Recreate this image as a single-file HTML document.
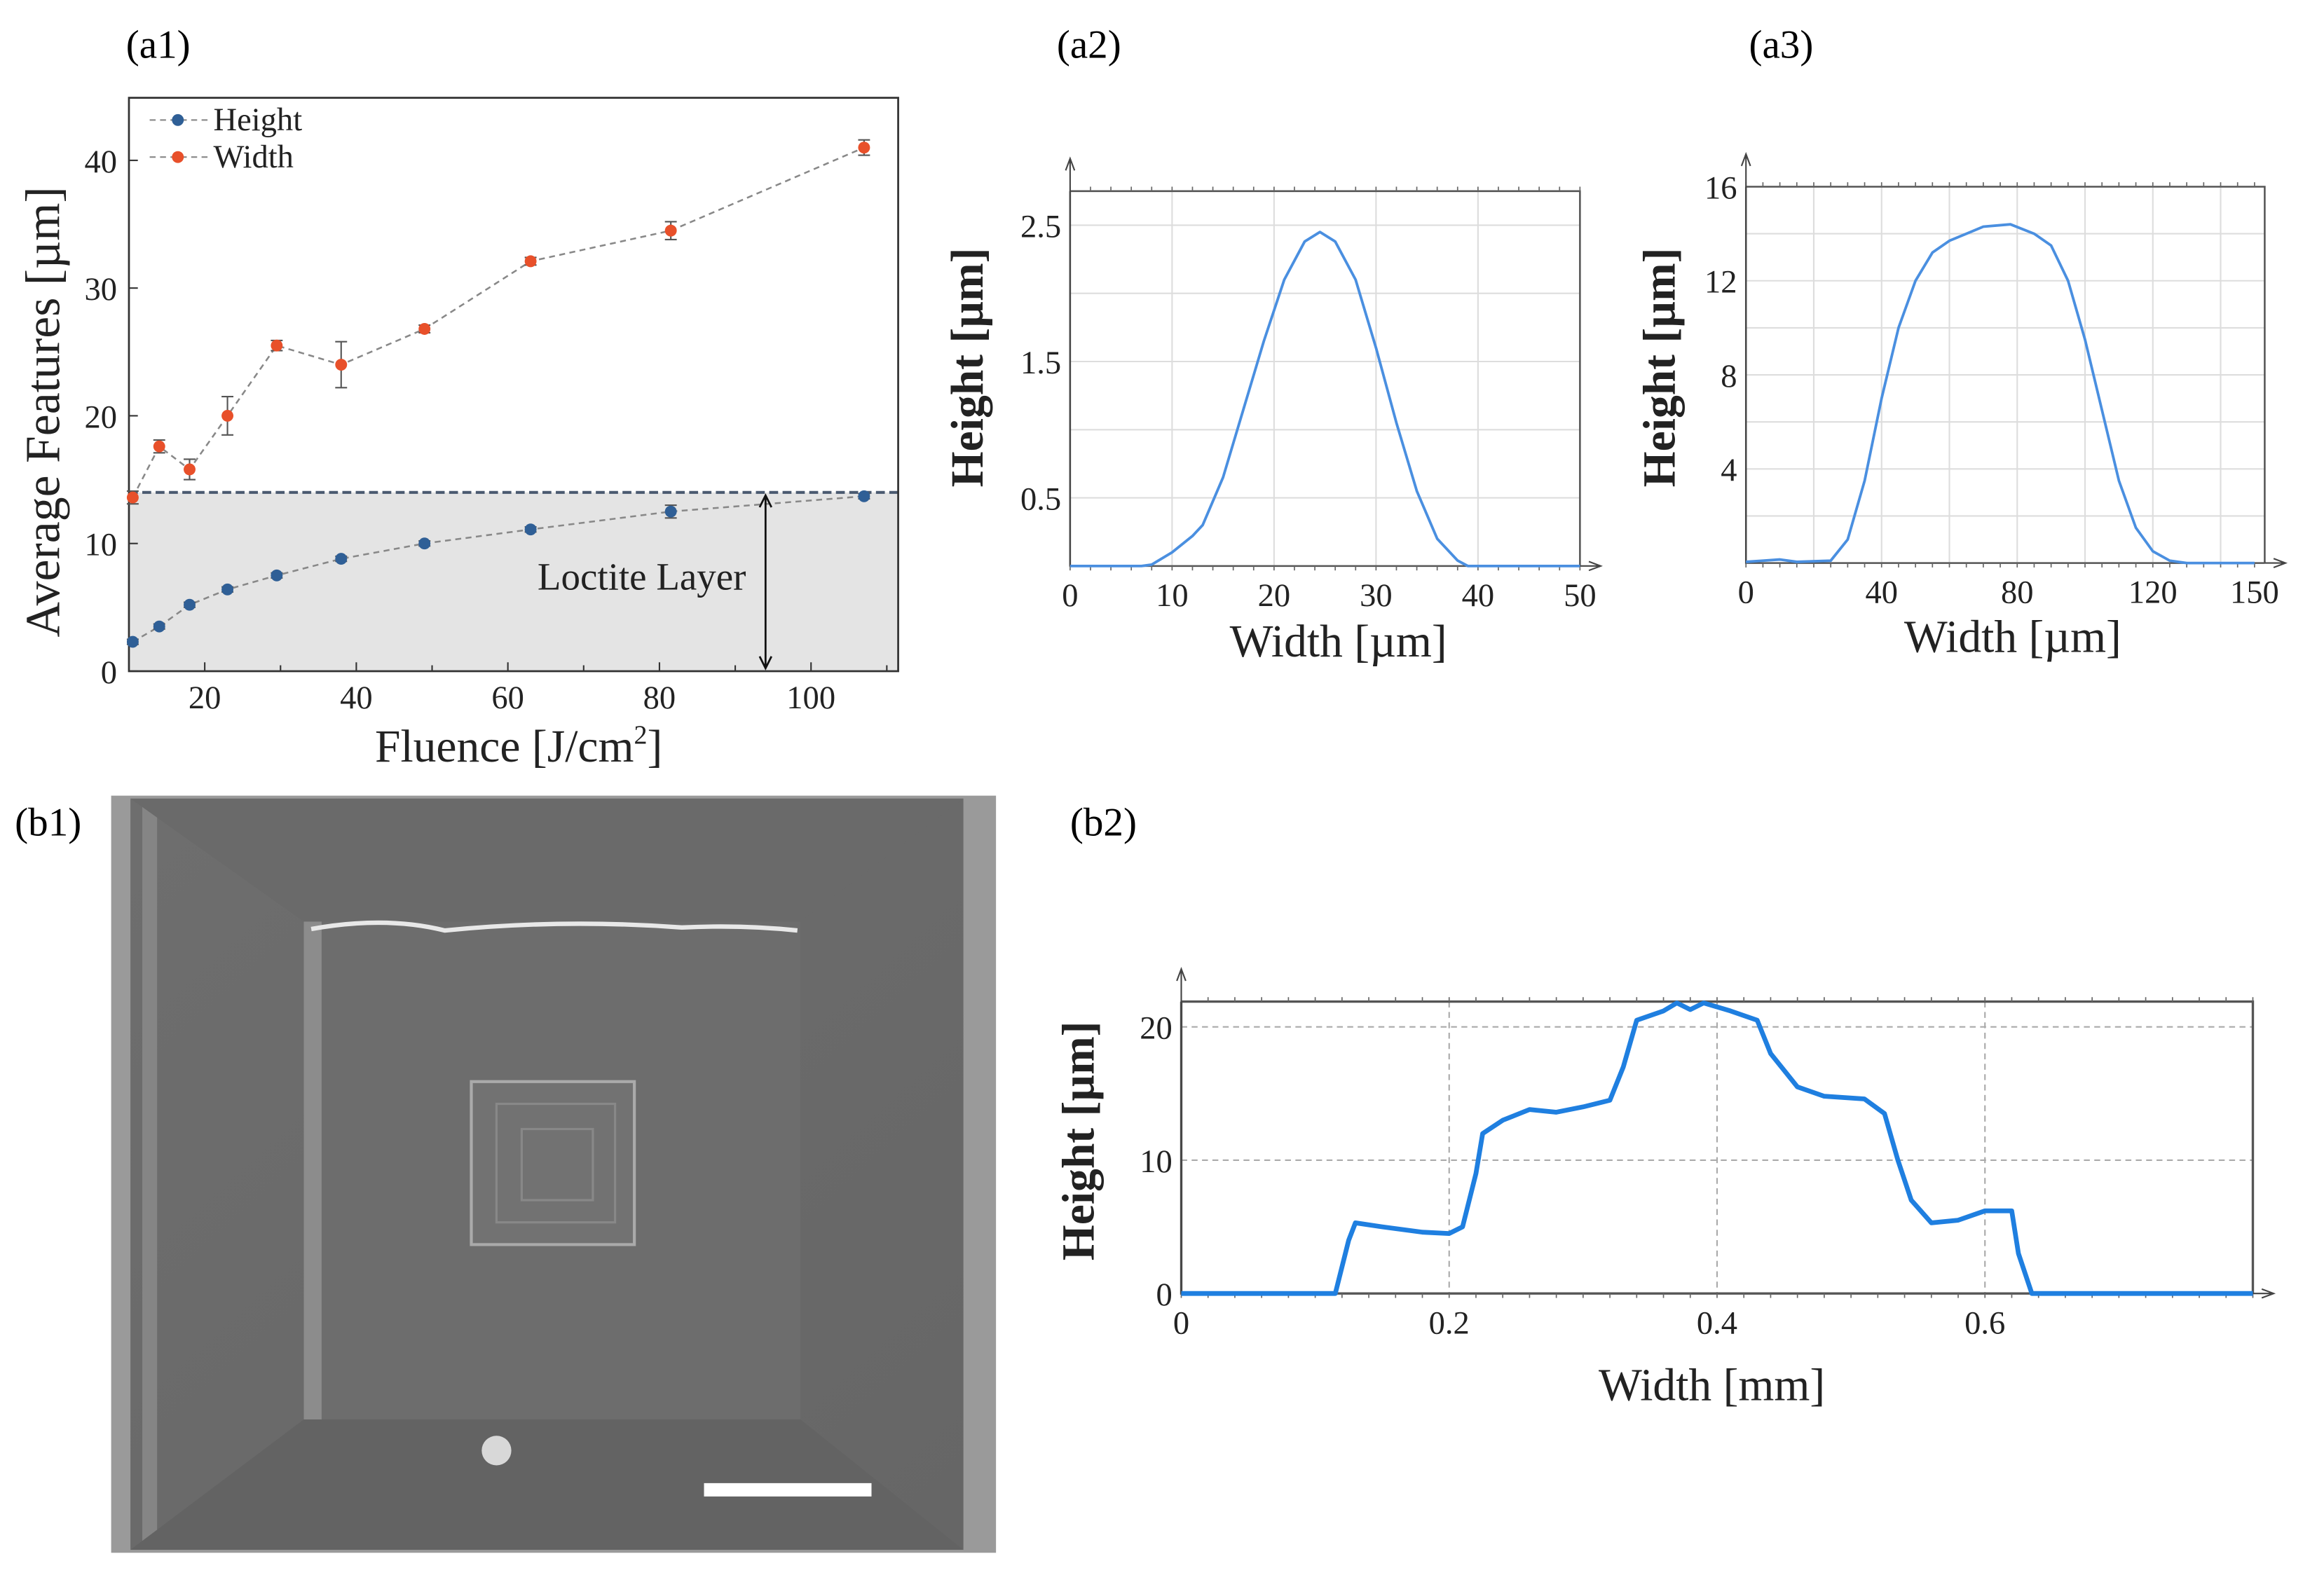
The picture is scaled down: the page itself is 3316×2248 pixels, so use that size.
<!DOCTYPE html>
<html><head><meta charset="utf-8">
<style>
html,body{margin:0;padding:0;background:#fff;}
svg{display:block;font-family:"Liberation Serif",serif;}
</style></head>
<body>
<svg id="fig" width="3316" height="2248" viewBox="0 0 1568 1063" preserveAspectRatio="none" xmlns="http://www.w3.org/2000/svg">
<defs>
<linearGradient id="semg" x1="0" y1="0" x2="1" y2="1"><stop offset="0" stop-color="#6e6e6e"/><stop offset="1" stop-color="#666"/></linearGradient>
</defs>
<text x="85" y="39" font-size="27">(a1)</text>
<text x="713" y="39" font-size="27">(a2)</text>
<text x="1180" y="39" font-size="27">(a3)</text>
<text x="10" y="564" font-size="27">(b1)</text>
<text x="722" y="564" font-size="27">(b2)</text>

<g>
<rect x="75" y="537" width="597" height="511" fill="#9a9a9a"/>
<rect x="88" y="539" width="562" height="507" fill="url(#semg)"/>
<rect x="96" y="540" width="10" height="505" fill="#858585"/>
<path d="M88 539 L205 622 L540 622 L650 539 Z" fill="#6a6a6a"/>
<path d="M88 1046 L205 958 L540 958 L650 1046 Z" fill="#636363"/>
<rect x="205" y="622" width="335" height="336" fill="#6d6d6d"/>
<rect x="205" y="622" width="12" height="336" fill="#8c8c8c"/>
<path d="M210 627 Q260 618 300 628 Q380 620 460 626 Q500 624 538 628" stroke="#e8e8e8" stroke-width="3" fill="none"/>
<rect x="318" y="730" width="110" height="110" fill="#727272" stroke="#aaa" stroke-width="2"/>
<rect x="335" y="745" width="80" height="80" fill="none" stroke="#888" stroke-width="1.5"/>
<rect x="352" y="762" width="48" height="48" fill="none" stroke="#888" stroke-width="1.5"/>
<circle cx="335" cy="979" r="10" fill="#d8d8d8"/>
<rect x="475" y="1001" width="113" height="9" fill="#fff"/>
</g>
<g id="a1"></g>
<g id="a2"></g>
<g id="a3"></g>
<g id="b2"></g>
</svg>
<script>
const a1Fluence = [10.5, 14, 18, 23, 29.5, 38, 49, 63, 81.5, 107];
const a1Width = [13.6, 17.6, 15.8, 20, 25.5, 24, 26.8, 32.1, 34.5, 41];
const a1WidthErr = [0.5, 0.5, 0.8, 1.5, 0.4, 1.8, 0.3, 0.3, 0.7, 0.6];
const a1Height = [2.3, 3.5, 5.2, 6.4, 7.5, 8.8, 10, 11.1, 12.5, 13.7];
const a1HeightErr = [0.2, 0.2, 0.2, 0.2, 0.2, 0.2, 0.2, 0.2, 0.5, 0.2];
const a1XTicks = [20, 40, 60, 80, 100];
const a1YTicks = [0, 10, 20, 30, 40];
const a1Layer = 14;
const a2X = [0, 7, 8, 10, 12, 13, 15, 17, 19, 21, 23, 24.5, 26, 28, 30, 32, 34, 36, 38, 39, 50];
const a2Y = [0, 0, 0.01, 0.1, 0.22, 0.3, 0.65, 1.15, 1.65, 2.1, 2.38, 2.45, 2.38, 2.1, 1.6, 1.05, 0.55, 0.2, 0.04, 0, 0];
const a2XTicks = [0, 10, 20, 30, 40, 50];
const a2YTicks = [0.5, 1.5, 2.5];
const a3X = [0, 5, 10, 15, 25, 30, 35, 40, 45, 50, 55, 60, 65, 70, 78, 85, 90, 95, 100, 105, 110, 115, 120, 125, 130, 150];
const a3Y = [0.05, 0.1, 0.15, 0.05, 0.1, 1, 3.5, 7, 10, 12, 13.2, 13.7, 14, 14.3, 14.4, 14, 13.5, 12, 9.5, 6.5, 3.5, 1.5, 0.5, 0.1, 0, 0];
const a3XTicks = [0, 40, 80, 120, 150];
const a3YTicks = [4, 8, 12, 16];
const b2X = [0, 0.115, 0.125, 0.13, 0.15, 0.18, 0.2, 0.21, 0.22, 0.225, 0.24, 0.26, 0.28, 0.3, 0.32, 0.33, 0.34, 0.36, 0.37, 0.38, 0.39, 0.41, 0.43, 0.44, 0.46, 0.48, 0.51, 0.525, 0.535, 0.545, 0.56, 0.58, 0.6, 0.62, 0.625, 0.635, 0.8];
const b2Y = [0, 0, 4, 5.3, 5, 4.6, 4.5, 5, 9, 12, 13, 13.8, 13.6, 14, 14.5, 17, 20.5, 21.2, 21.8, 21.3, 21.8, 21.2, 20.5, 18, 15.5, 14.8, 14.6, 13.5, 10, 7, 5.3, 5.5, 6.2, 6.2, 3, 0, 0];
const b2XTicks = [0, 0.2, 0.4, 0.6];
const b2YTicks = [0, 10, 20];

const NS = "http://www.w3.org/2000/svg";
function mk(parent, tag, attrs, text) {
  const e = document.createElementNS(NS, tag);
  for (const k in attrs) e.setAttribute(k, attrs[k]);
  if (text !== undefined) e.textContent = text;
  parent.appendChild(e);
  return e;
}
function lin(d0, d1, r0, r1) { return v => r0 + (v - d0) * (r1 - r0) / (d1 - d0); }
function pathFrom(xs, ys, sx, sy) { return xs.map((x, i) => (i ? "L" : "M") + sx(x).toFixed(2) + " " + sy(ys[i]).toFixed(2)).join(""); }

(function () {
  const g = document.getElementById("a1");
  const L = 87, R = 606, T = 66, B = 453;
  const sx = lin(10, 111.5, L, R), sy = lin(0, 44.9, B, T);
  const sh = mk(g, "rect", { x: L, y: sy(a1Layer), width: R - L, height: B - sy(a1Layer), fill: "#e4e4e4" });
  
  
  const ll = mk(g, "line", { x1: L, x2: R, y1: sy(a1Layer), y2: sy(a1Layer), stroke: "#4a5a70", "stroke-width": 2, "stroke-dasharray": "6 3" });
  
  
  const fr = mk(g, "rect", { x: L, y: T, width: R - L, height: B - T, fill: "none", stroke: "#333", "stroke-width": 1.3 });
  
  
  a1XTicks.forEach(v => {
    const t = mk(g, "text", { x: sx(v), y: B + 25, "font-size": 22, "text-anchor": "middle", fill: "#222" }, v);
    
    
    mk(g, "line", { x1: sx(v), x2: sx(v), y1: B, y2: B - 6, stroke: "#333" });
    mk(g, "line", { x1: sx(v + 10), x2: sx(v + 10), y1: B, y2: B - 4, stroke: "#333" });
  });
  a1YTicks.forEach(v => {
    const t = mk(g, "text", { x: L - 8, y: sy(v) + 8, "font-size": 22, "text-anchor": "end", fill: "#222" }, v);
    
    
    mk(g, "line", { x1: L, x2: L + 6, y1: sy(v), y2: sy(v), stroke: "#333" });
  });
  const xt = mk(g, "text", { x: 350, y: 514, "font-size": 31, "text-anchor": "middle", fill: "#222" });
  xt.innerHTML = 'Fluence [J/cm<tspan dy="-12" font-size="18">2</tspan><tspan dy="12">]</tspan>';
  
  
  const yt = mk(g, "text", { x: 0, y: 0, "font-size": 33, "text-anchor": "middle", fill: "#222", transform: "translate(40,278) rotate(-90)" }, "Average Features [µm]");
  
  
  [[a1Height, a1HeightErr, "#2f5f96", "height-point"], [a1Width, a1WidthErr, "#e8502a", "width-point"]].forEach(([ys, es, col, nm]) => {
    const ln = mk(g, "path", { d: pathFrom(a1Fluence, ys, sx, sy), fill: "none", stroke: "#888", "stroke-width": 1.2, "stroke-dasharray": "4 3" });
    
    
    a1Fluence.forEach((x, i) => {
      const cx = sx(x);
      mk(g, "path", { d: `M${cx} ${sy(ys[i] - es[i])}V${sy(ys[i] + es[i])}M${cx - 4} ${sy(ys[i] - es[i])}h8M${cx - 4} ${sy(ys[i] + es[i])}h8`, stroke: "#555", "stroke-width": 1, fill: "none" });
      const c = mk(g, "circle", { cx: cx, cy: sy(ys[i]), r: 4, fill: col });
      
      
    });
  });
  const ax = sx(94);
  const ar = mk(g, "path", { d: `M${ax} ${sy(a1Layer) + 2}V${B - 2}M${ax - 4} ${sy(a1Layer) + 10}L${ax} ${sy(a1Layer) + 2}L${ax + 4} ${sy(a1Layer) + 10}M${ax - 4} ${B - 10}L${ax} ${B - 2}L${ax + 4} ${B - 10}`, stroke: "#111", "stroke-width": 1.3, fill: "none" });
  
  
  const lt = mk(g, "text", { x: 433, y: 398, "font-size": 26, "text-anchor": "middle", fill: "#222" }, "Loctite Layer");
  
  
  [["Height", "#2f5f96", 81], ["Width", "#e8502a", 106]].forEach(([t, c, y]) => {
    const le = mk(g, "g", {});
    
    
    mk(le, "line", { x1: 101, x2: 140, y1: y, y2: y, stroke: "#888", "stroke-dasharray": "4 3" });
    mk(le, "circle", { cx: 120, cy: y, r: 4, fill: c });
    mk(le, "text", { x: 144, y: y + 7, "font-size": 22, fill: "#222" }, t);
  });
})();

function profile(id, o) {
  const g = document.getElementById(id);
  const sx = lin(o.x0, o.x1, o.L, o.R), sy = lin(0, o.ytop, o.B, o.T);
  o.gridY.forEach(v => mk(g, "line", { x1: o.L, x2: o.R, y1: sy(v), y2: sy(v), stroke: o.gridCol, "stroke-width": 1, "stroke-dasharray": o.dash || "" }));
  o.gridX.forEach(v => mk(g, "line", { x1: sx(v), x2: sx(v), y1: o.T, y2: o.B, stroke: o.gridCol, "stroke-width": 1, "stroke-dasharray": o.dash || "" }));
  const fr = mk(g, "path", { d: `M${o.L} ${o.T}H${o.R}V${o.B}M${o.L} ${o.T}V${o.B}H${o.R}`, fill: "none", stroke: "#555", "stroke-width": o.frameW || 1.2 });
  
  
  for (let v = o.x0; v <= o.x1 + 1e-9; v += o.minor) {
    mk(g, "line", { x1: sx(v), x2: sx(v), y1: o.T, y2: o.T - 3, stroke: "#666", "stroke-width": 0.8 });
    mk(g, "line", { x1: sx(v), x2: sx(v), y1: o.B, y2: o.B + 3, stroke: "#666", "stroke-width": 0.8 });
  }
  mk(g, "path", { d: `M${o.L} ${o.B}V${o.T - 22}M${o.L - 3} ${o.T - 14}L${o.L} ${o.T - 22}L${o.L + 3} ${o.T - 14}M${o.R} ${o.B}H${o.R + 14}M${o.R + 6} ${o.B - 3}L${o.R + 14} ${o.B}L${o.R + 6} ${o.B + 3}`, stroke: "#444", fill: "none", "stroke-width": 1 });
  o.xt.forEach(v => {
    const t = mk(g, "text", { x: sx(v), y: o.B + 27, "font-size": 22, "text-anchor": "middle", fill: "#222" }, v);
    
    
  });
  o.yt.forEach(v => {
    const t = mk(g, "text", { x: o.L - 6, y: sy(v) + 8, "font-size": 22, "text-anchor": "end", fill: "#222" }, v);
    
    
  });
  const c = mk(g, "path", { d: pathFrom(o.xs, o.ys, sx, sy), fill: "none", stroke: o.col, "stroke-width": o.lw, "stroke-linejoin": "round" });
  
  
  const xt = mk(g, "text", { x: o.xtx, y: o.xty, "font-size": 31, "text-anchor": "middle", fill: "#222" }, o.xtitle);
  
  
  const yt = mk(g, "text", { x: 0, y: 0, "font-size": 31, "font-weight": "bold", "text-anchor": "middle", fill: "#222", transform: `translate(${o.ytx},${o.yty}) rotate(-90)` }, "Height [µm]");
  
  
}
profile("a2", { L: 722, R: 1066, T: 129, B: 382, x0: 0, x1: 50, ytop: 2.75, gridY: [0.5, 1, 1.5, 2, 2.5], gridX: [10, 20, 30, 40], gridCol: "#ddd", minor: 2, xt: a2XTicks, yt: a2YTicks, xs: a2X, ys: a2Y, col: "#4a8fe0", lw: 1.8, xtitle: "Width [µm]", xtx: 903, xty: 443, ytx: 663, yty: 248 });
profile("a3", { L: 1178, R: 1528, T: 126, B: 380, x0: 0, x1: 153, ytop: 16, gridY: [2, 4, 6, 8, 10, 12, 14], gridX: [20, 40, 60, 80, 100, 120, 140], gridCol: "#ddd", minor: 5, xt: a3XTicks, yt: a3YTicks, xs: a3X, ys: a3Y, col: "#4a8fe0", lw: 1.8, xtitle: "Width [µm]", xtx: 1358, xty: 440, ytx: 1130, yty: 248 });
profile("b2", { L: 797, R: 1520, T: 676, B: 873, x0: 0, x1: 0.8, ytop: 21.9, gridY: [10, 20], gridX: [0.2, 0.4, 0.6], gridCol: "#aaa", dash: "4 3", minor: 0.02, frameW: 1.6, xt: b2XTicks, yt: b2YTicks, xs: b2X, ys: b2Y, col: "#1f7fe0", lw: 3.2, xtitle: "Width [mm]", xtx: 1155, xty: 945, ytx: 738, yty: 770 });
</script>
</body></html>
